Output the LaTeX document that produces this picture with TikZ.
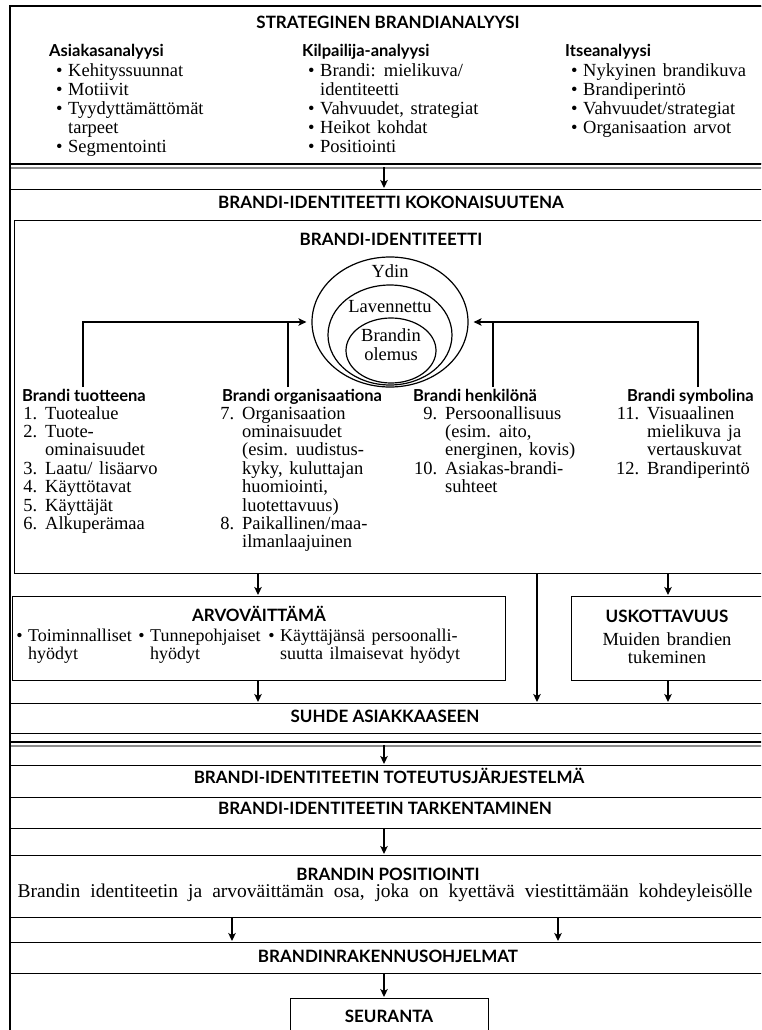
\documentclass[tikz,border=0pt]{standalone}
\usepackage{fontspec}
\setmainfont{Liberation Serif}
\setsansfont{Lato}
\usetikzlibrary{arrows.meta,shapes.geometric}
\newcommand\mybul{\makebox[0pt][r]{\textbullet\hspace{5.5pt}}}
\newcommand\mynum[1]{\makebox[0pt][r]{#1\hspace{8pt}}}
\newcommand\myws{\spaceskip=0.36em plus 0.2em minus 0.05em\relax}
\begin{document}
\begin{tikzpicture}[x=1pt,y=-1pt,
  box/.style={draw, line width=1.2pt, rectangle, inner sep=0pt, anchor=north west},
  arr/.style={-{Stealth[length=8pt,width=7.5pt,inset=2pt]}, line width=1.2pt},
  ln/.style={line width=1.2pt},
  ttl/.style={font=\sffamily\bfseries\fontsize{17}{19}\selectfont, inner sep=0pt, anchor=base},
  hd/.style={font=\sffamily\bfseries\fontsize{16.5}{19}\selectfont, inner sep=0pt, anchor=base west},
  tx/.style={font=\fontsize{18.5}{19}\selectfont\myws, inner sep=0pt, anchor=base west},
  tc/.style={font=\fontsize{18.5}{19}\selectfont\myws, inner sep=0pt, anchor=base},
  ta/.style={font=\fontsize{18}{19}\selectfont\myws, inner sep=0pt, anchor=base west},
]
\useasboundingbox (0,0) rectangle (761,1030);
\clip (0,0) rectangle (761,1030);

% ---------- boxes ----------
\node[box, minimum width=800pt, minimum height=157pt] (strat) at (10,6) {};
\node[box, minimum width=800pt, minimum height=544pt] (kok) at (10,189) {};
\node[box, minimum width=800pt, minimum height=353pt] (ident) at (14,220) {};
\node[box, minimum width=493pt, minimum height=84pt] (arvo) at (12,596) {};
\node[box, minimum width=260pt, minimum height=84pt] (usko) at (571,596) {};
\node[box, minimum width=800pt, minimum height=30pt] (suhde) at (10,703) {};
\node[box, minimum width=800pt, minimum height=32pt] (tot) at (10,765) {};
\node[box, minimum width=800pt, minimum height=31pt] (tark) at (10,797) {};
\node[box, minimum width=800pt, minimum height=62pt] (pos) at (10,855) {};
\node[box, minimum width=800pt, minimum height=31pt] (rak) at (10,942) {};
\node[box, minimum width=198pt, minimum height=60pt] (seur) at (290,998) {};

% double separators
\draw[line width=1.8pt] (strat.south west) -- (strat.south east);
\draw[line width=1.6pt, black!45] ([yshift=-4pt]strat.south west) -- ([yshift=-4pt]strat.south east);
\draw[line width=1.8pt] ([yshift=-8pt]suhde.south west) -- ([yshift=-8pt]suhde.south east);
\draw[line width=1.6pt, black!45] ([yshift=-12pt]suhde.south west) -- ([yshift=-12pt]suhde.south east);

% outer thick frame
\draw[line width=2.8pt] (10,1040) -- (10,6) -- (800,6);

% ---------- top: strategic analysis ----------
\node[ttl] (t0) at (388,29) {STRATEGINEN BRANDIANALYYSI};
\node[hd] (h1) at (49,57) {Asiakasanalyysi};
\node[hd] (h2) at (302,57) {Kilpailija-analyysi};
\node[hd] (h3) at (565,57) {Itseanalyysi};
\foreach \t [count=\i from 0] in {\mybul Kehityssuunnat, \mybul Motiivit, \mybul Tyydyttämättömät, tarpeet, \mybul Segmentointi}
  \node[tx] (a\i) at (68,77+19*\i) {\t};
\foreach \t [count=\i from 0] in {\mybul Brandi: mielikuva/, identiteetti, {\mybul Vahvuudet, strategiat}, \mybul Heikot kohdat, \mybul Positiointi}
  \node[tx] (b\i) at (320,77+19*\i) {\t};
\foreach \t [count=\i from 0] in {\mybul Nykyinen brandikuva, \mybul Brandiperintö, \mybul Vahvuudet/strategiat, \mybul Organisaation arvot}
  \node[tx] (c\i) at (583,77+19*\i) {\t};

\coordinate (g1) at (384,167);
\draw[arr, shorten >=1pt] (g1) -- (g1 |- kok.north);

% ---------- brand identity ----------
\node[ttl] (t1) at (391,208) {BRANDI-IDENTITEETTI KOKONAISUUTENA};
\node[ttl] (t2) at (391,245) {BRANDI-IDENTITEETTI};

\node[draw, ln, ellipse, minimum width=156pt, minimum height=130pt, inner sep=0pt] (e1) at (390,322) {};
\node[draw, ln, ellipse, minimum width=124pt, minimum height=100pt, inner sep=0pt] (e2) at (390,335) {};
\node[draw, ln, ellipse, minimum width=90pt, minimum height=65pt, inner sep=0pt] (e3) at (391,350.5) {};
\node[tc] (ydin) at (390,277) {Ydin};
\node[tc] (lav) at (390,312) {Lavennettu};
\node[tc] (bol1) at (391,341) {Brandin};
\node[tc] (bol2) at (391,360) {olemus};

\coordinate (l1) at (83,387);
\coordinate (l2) at (288,387);
\coordinate (r1) at (493,387);
\coordinate (r2) at (698,387);
\draw[arr, shorten >=5pt] (l1) |- (e1.west);
\draw[ln] (l2) -- (l2 |- e1.west);
\draw[arr, shorten >=5pt] (r2) |- (e1.east);
\draw[ln] (r1) -- (r1 |- e1.east);

\node[hd] (p1) at (22,401) {Brandi tuotteena};
\node[hd] (p2) at (222,401) {Brandi organisaationa};
\node[hd] (p3) at (413,401) {Brandi henkilönä};
\node[hd] (p4) at (627,401) {Brandi symbolina};

\foreach \t [count=\i from 0] in {\mynum{1.}Tuotealue, \mynum{2.}Tuote-, ominaisuudet, \mynum{3.}Laatu/ lisäarvo, \mynum{4.}Käyttötavat, \mynum{5.}Käyttäjät, \mynum{6.}Alkuperämaa}
  \node[tx] (q\i) at (45,419+18.4*\i) {\t};
\foreach \t [count=\i from 0] in {\mynum{7.}Organisaation, ominaisuudet, {(esim. uudistus-}, {kyky, kuluttajan}, {huomiointi,}, {luotettavuus)}, \mynum{8.}Paikallinen/maa-, ilmanlaajuinen}
  \node[tx] (r\i) at (242,419+18.4*\i) {\t};
\foreach \t [count=\i from 0] in {\mynum{9.}Persoonallisuus, {(esim. aito,}, {energinen, kovis)}, \mynum{10.}Asiakas-brandi-, suhteet}
  \node[tx] (s\i) at (445,419+18.4*\i) {\t};
\foreach \t [count=\i from 0] in {\mynum{11.}Visuaalinen, mielikuva ja, vertauskuvat, \mynum{12.}Brandiperintö}
  \node[tx] (u\i) at (647,419+18.4*\i) {\t};

% ---------- value proposition & credibility ----------
\coordinate (xa) at (258,0);
\coordinate (xb) at (537,0);
\coordinate (xc) at (668,0);
\draw[arr, shorten >=1pt] (xa |- ident.south) -- (xa |- arvo.north);
\draw[arr, shorten >=1pt] (xc |- ident.south) -- (xc |- usko.north);
\draw[arr, shorten >=1pt] (xb |- ident.south) -- (xb |- suhde.north);
\draw[arr, shorten >=1pt] (xa |- arvo.south) -- (xa |- suhde.north);
\draw[arr, shorten >=1pt] (xc |- usko.south) -- (xc |- suhde.north);

\node[ttl] (av) at (259,621) {ARVOVÄITTÄMÄ};
\node[ta] (v1) at (28,641) {\mybul Toiminnalliset};
\node[ta] (v2) at (28,659) {hyödyt};
\node[ta] (v3) at (150,641) {\mybul Tunnepohjaiset};
\node[ta] (v4) at (150,659) {hyödyt};
\node[ta] (v5) at (280,641) {\mybul Käyttäjänsä persoonalli-};
\node[ta] (v6) at (280,659) {suutta ilmaisevat hyödyt};

\node[ttl] (uk) at (667,622) {USKOTTAVUUS};
\node[tc] (uk1) at (667,645) {Muiden brandien};
\node[tc] (uk2) at (667,663) {tukeminen};

\node[ttl] (sa) at (385,722) {SUHDE ASIAKKAASEEN};

% ---------- implementation ----------
\coordinate (g2) at (384,745);
\draw[arr, shorten >=1pt] (g2) -- (g2 |- tot.north);
\node[ttl] (tt) at (389,783) {BRANDI-IDENTITEETIN TOTEUTUSJÄRJESTELMÄ};
\node[ttl] (tk) at (385,814) {BRANDI-IDENTITEETIN TARKENTAMINEN};
\coordinate (xg) at (384,0);
\draw[arr, shorten >=1pt] (xg |- tark.south) -- (xg |- pos.north);
\node[ttl] (bp) at (388,880) {BRANDIN POSITIOINTI};
\node[tc, font=\fontsize{19.5}{20}\selectfont\myws] (bp1) at (385,897) {\makebox[735pt][s]{Brandin identiteetin ja arvoväittämän osa, joka on kyettävä viestittämään kohdeyleisölle}};
\coordinate (xd) at (232,0);
\coordinate (xe) at (558,0);
\draw[arr, shorten >=1pt] (xd |- pos.south) -- (xd |- rak.north);
\draw[arr, shorten >=1pt] (xe |- pos.south) -- (xe |- rak.north);
\node[ttl] (br) at (388,962) {BRANDINRAKENNUSOHJELMAT};
\coordinate (xf) at (384,0);
\draw[arr, shorten >=1pt] (xf |- rak.south) -- (xf |- seur.north);
\node[ttl] (se) at (389,1022) {SEURANTA};
\end{tikzpicture}
\end{document}
